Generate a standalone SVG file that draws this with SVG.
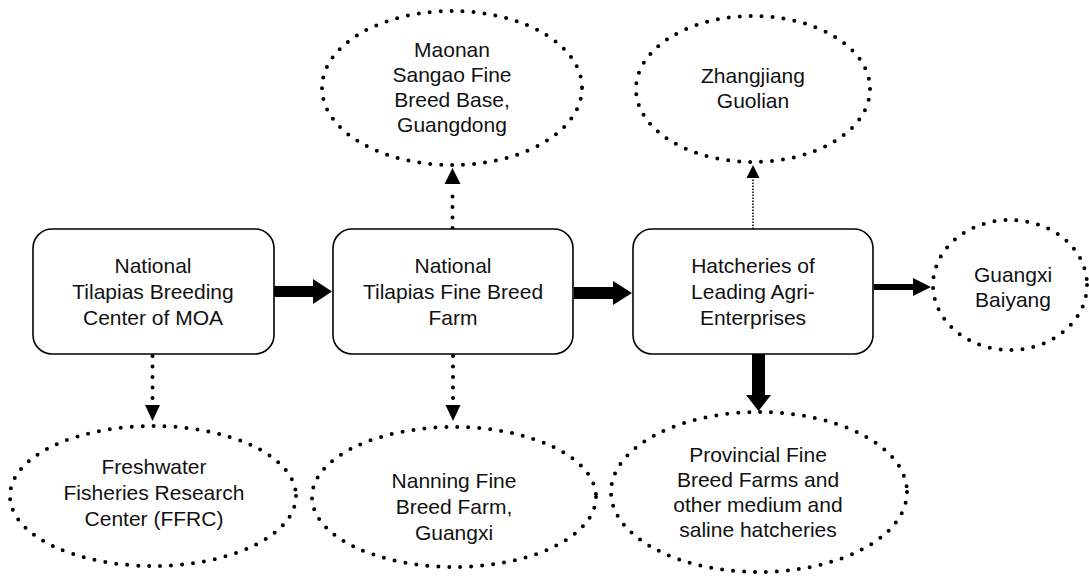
<svg xmlns="http://www.w3.org/2000/svg" width="1089" height="576" viewBox="0 0 1089 576">
  <style>
    .box { fill: #ffffff; stroke: #000000; stroke-width: 1.6; }
    .oval { fill: #ffffff; stroke: #000000; stroke-width: 4; stroke-linecap: round; stroke-dasharray: 0 11; }
    .label { font-family: "Liberation Sans", Arial, Helvetica, sans-serif; font-size: 21px; fill: #111111; text-anchor: middle; }
    .dots { fill: none; stroke: #000000; stroke-width: 4; stroke-linecap: round; stroke-dasharray: 0 10.5; }
    .fine { fill: none; stroke: #000000; stroke-width: 1.5; stroke-dasharray: 1.5 1.5; }
    .solid { fill: #000000; stroke: none; }
  </style>

  <rect width="1089" height="576" fill="#ffffff"/>

  <!-- connectors -->
  <g id="connectors">
    <!-- breeding center -> fine breed farm -->
    <rect class="solid" x="274" y="286" width="40" height="11"/>
    <polygon class="solid" points="313,279 332,291.5 313,304"/>
    <!-- fine breed farm -> hatcheries -->
    <rect class="solid" x="574" y="287" width="40" height="12"/>
    <polygon class="solid" points="613,281 632,293 613,305"/>
    <!-- hatcheries -> Guangxi Baiyang -->
    <rect class="solid" x="874" y="284" width="40" height="6"/>
    <polygon class="solid" points="913,278 931,287 913,296"/>
    <!-- hatcheries -> provincial farms -->
    <rect class="solid" x="752" y="354" width="13" height="42"/>
    <polygon class="solid" points="746,395 771,395 758.5,411"/>
    <!-- breeding center -> FFRC -->
    <line class="dots" x1="152.5" y1="356" x2="152.5" y2="402"/>
    <polygon class="solid" points="145,405 160,405 152.5,421"/>
    <!-- fine breed farm -> Nanning -->
    <line class="dots" x1="453" y1="356" x2="453" y2="402"/>
    <polygon class="solid" points="445.5,405 460.5,405 453,421"/>
    <!-- fine breed farm -> Maonan -->
    <line class="dots" x1="452.5" y1="228" x2="452.5" y2="186"/>
    <polygon class="solid" points="444.5,184 460.5,184 452.5,168"/>
    <!-- hatcheries -> Zhangjiang -->
    <line class="fine" x1="753" y1="229" x2="753" y2="178"/>
    <polygon class="solid" points="746.5,178 759.5,178 753,165"/>
  </g>

  <g id="breeding-center">
    <rect class="box" x="33" y="229" width="241" height="125" rx="19"/>
    <text class="label" x="153" y="273">National</text>
    <text class="label" x="153" y="299">Tilapias Breeding</text>
    <text class="label" x="153" y="325">Center of MOA</text>
  </g>

  <g id="fine-breed-farm">
    <rect class="box" x="333" y="229" width="240" height="125" rx="19"/>
    <text class="label" x="453" y="273">National</text>
    <text class="label" x="453" y="299">Tilapias Fine Breed</text>
    <text class="label" x="453" y="325">Farm</text>
  </g>

  <g id="hatcheries">
    <rect class="box" x="633" y="229" width="240" height="125" rx="19"/>
    <text class="label" x="753" y="273">Hatcheries of</text>
    <text class="label" x="753" y="299">Leading Agri-</text>
    <text class="label" x="753" y="325">Enterprises</text>
  </g>

  <g id="maonan">
    <ellipse class="oval" cx="452" cy="88" rx="130" ry="77"/>
    <text class="label" x="452" y="57">Maonan</text>
    <text class="label" x="452" y="82">Sangao Fine</text>
    <text class="label" x="452" y="107">Breed Base,</text>
    <text class="label" x="452" y="132">Guangdong</text>
  </g>

  <g id="zhangjiang">
    <ellipse class="oval" cx="753" cy="89" rx="117" ry="73"/>
    <text class="label" x="753" y="83">Zhangjiang</text>
    <text class="label" x="753" y="108">Guolian</text>
  </g>

  <g id="guangxi-baiyang">
    <ellipse class="oval" cx="1010" cy="285" rx="77" ry="65"/>
    <text class="label" x="1013" y="282">Guangxi</text>
    <text class="label" x="1013" y="307">Baiyang</text>
  </g>

  <g id="ffrc">
    <ellipse class="oval" cx="153" cy="496" rx="143" ry="70"/>
    <text class="label" x="154" y="474">Freshwater</text>
    <text class="label" x="154" y="500">Fisheries Research</text>
    <text class="label" x="154" y="526">Center (FFRC)</text>
  </g>

  <g id="nanning">
    <ellipse class="oval" cx="454" cy="497" rx="142" ry="70"/>
    <text class="label" x="454" y="488">Nanning Fine</text>
    <text class="label" x="454" y="514">Breed Farm,</text>
    <text class="label" x="454" y="540">Guangxi</text>
  </g>

  <g id="provincial">
    <ellipse class="oval" cx="759" cy="492" rx="148" ry="80"/>
    <text class="label" x="758" y="462">Provincial Fine</text>
    <text class="label" x="758" y="487">Breed Farms and</text>
    <text class="label" x="758" y="512">other medium and</text>
    <text class="label" x="758" y="537">saline hatcheries</text>
  </g>
</svg>
